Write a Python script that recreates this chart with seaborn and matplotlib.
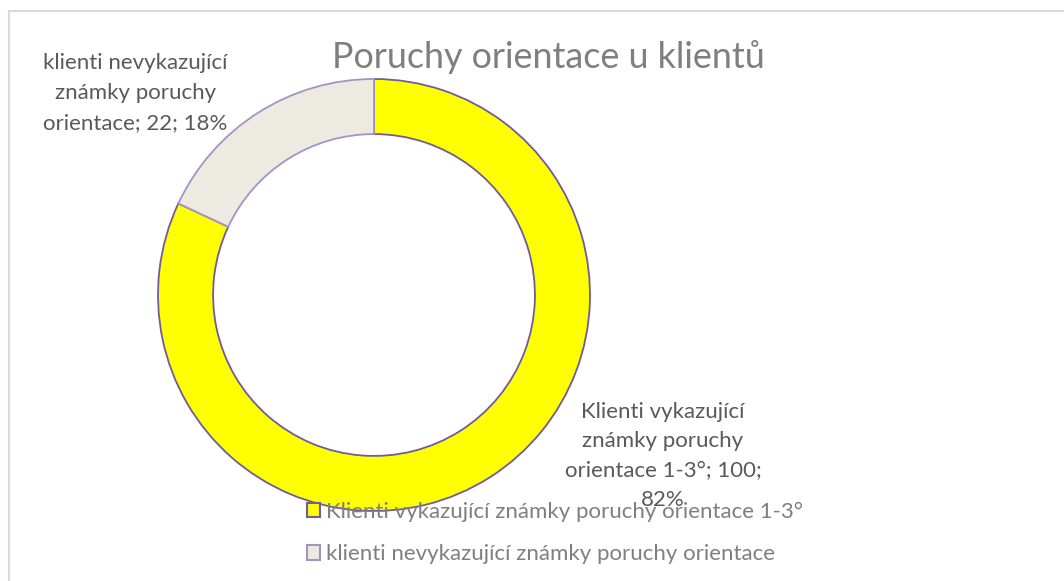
import matplotlib
matplotlib.use("Agg")
import matplotlib.pyplot as plt
import matplotlib.patches as mpatches
import seaborn as sns

sns.set_style("white")
plt.rcParams['font.family'] = ['Lato', 'DejaVu Sans']

# data
categories = ["Klienti vykazující známky poruchy orientace 1-3°",
              "klienti nevykazující známky poruchy orientace"]
values = [100, 22]
percents = [82, 18]
label_texts = ["Klienti vykazující\nznámky poruchy\norientace 1-3°; 100;\n82%",
               "klienti nevykazující\nznámky poruchy\norientace; 22; 18%"]
colors = ["#FFFF00", "#EDEAE1"]
edges = ["#6F5B9E", "#A493C4"]
title = "Poruchy orientace u klientů"

fig = plt.figure(figsize=(10.64, 5.81), dpi=100)

# light frame around chart area
fig.patches.append(mpatches.Rectangle((9 / 1064, -0.1), 1.2, (581 - 11) / 581 + 0.1,
                                      transform=fig.transFigure, fill=False,
                                      edgecolor="#D9D9D9", linewidth=1.5))

ax = fig.add_axes([158 / 1064, (581 - 511) / 581, 432 / 1064, 432 / 581])
wedges, _ = ax.pie(values, colors=colors, startangle=90, counterclock=False,
                   radius=1, wedgeprops=dict(width=0.255, linewidth=1.3))
for w, ec in zip(wedges, edges):
    w.set_edgecolor(ec)
ax.set_xlim(-1.0, 1.0)
ax.set_ylim(-1.0, 1.0)
ax.set_aspect("equal")
ax.axis("off")

# data labels
ax.text(1.338, -0.745, label_texts[0], ha="center", va="center", fontsize=16,
        color="#595959", linespacing=1.6)
ax.text(-1.106, 0.935, label_texts[1], ha="center", va="center", fontsize=16,
        color="#595959", linespacing=1.6)

fig.text(548 / 1064, 1 - 57 / 581, title, ha="center", va="center",
         fontsize=25.8, color="#7F7F7F")

handles = [mpatches.Patch(facecolor=c, edgecolor=e, linewidth=1.5) for c, e in zip(colors, edges)]
leg = fig.legend(handles, categories, loc="upper left", bbox_to_anchor=(287 / 1064, 1 - 482 / 581),
                 frameon=False, fontsize=16, labelcolor="#7F7F7F", handlelength=0.6,
                 handleheight=0.6, handletextpad=0.25, labelspacing=1.0)

fig.savefig("out.png", dpi=100)
